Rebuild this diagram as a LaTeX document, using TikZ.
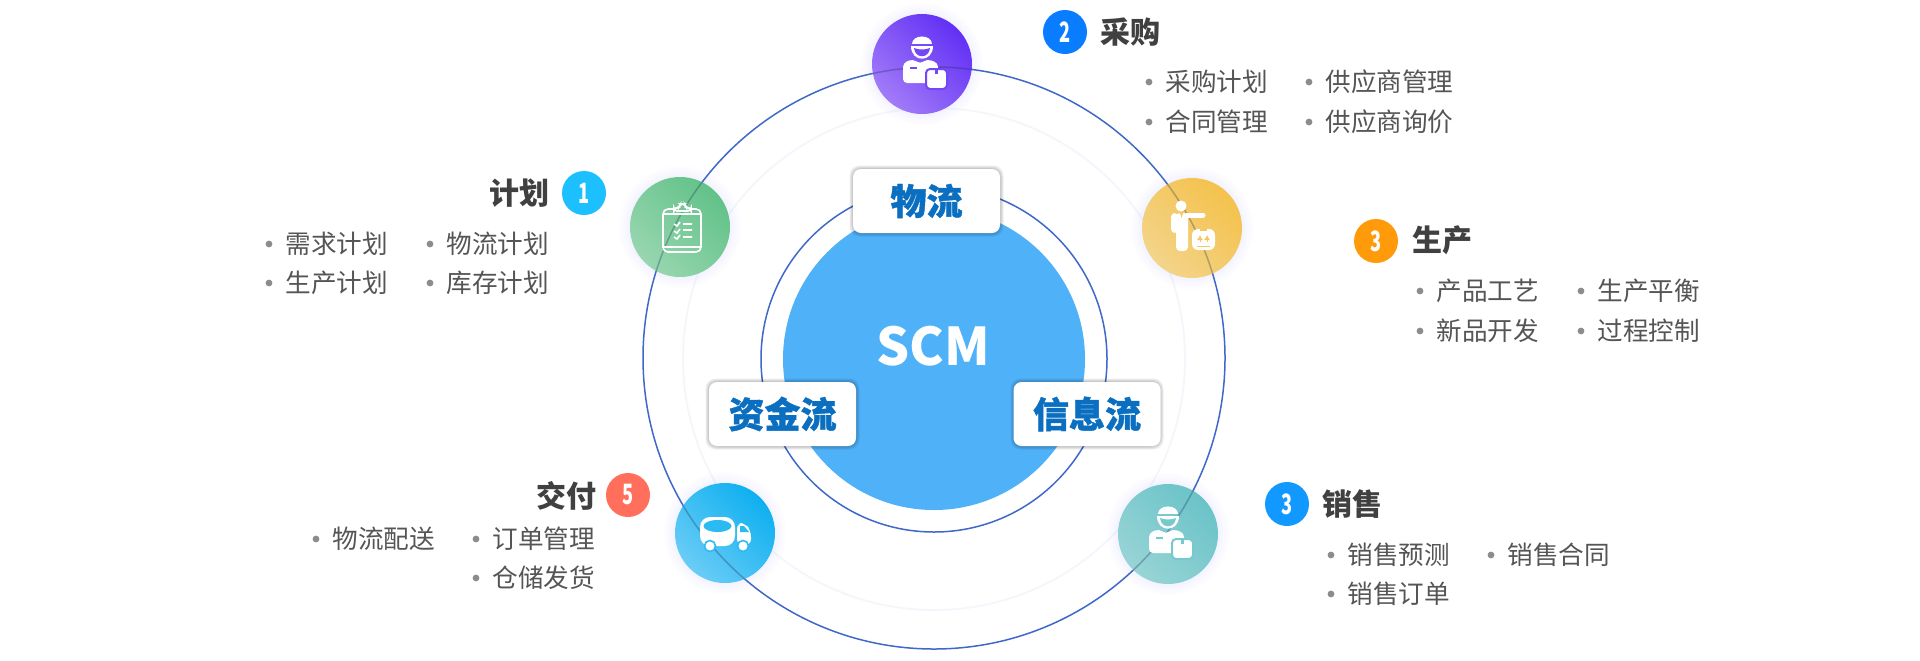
\documentclass[tikz,border=0pt]{standalone}
\usepackage{fontspec}
\usetikzlibrary{arrows.meta}
\setmainfont{Noto Sans CJK SC}
\newfontfamily\boxfont{Noto Sans CJK SC}[BoldFeatures={FakeBold=1.1}]
\definecolor{ringblue}{HTML}{3F68C8}
\definecolor{ringfaint}{HTML}{F5F6FC}
\definecolor{scmblue}{HTML}{4FB1F8}
\definecolor{flowblue}{HTML}{0A6FC0}
\definecolor{titlegray}{HTML}{404040}
\definecolor{itemgray}{HTML}{555555}
\definecolor{purpleA}{HTML}{6230F5}\definecolor{purpleB}{HTML}{A27BF8}\definecolor{purpleC}{HTML}{7446F6}
\definecolor{yellowA}{HTML}{F4C24C}\definecolor{yellowB}{HTML}{F3D48A}\definecolor{yellowC}{HTML}{F4C860}
\definecolor{greenA}{HTML}{62C288}\definecolor{greenB}{HTML}{98D6B0}\definecolor{greenC}{HTML}{72C996}
\definecolor{cyanA}{HTML}{0EB0F0}\definecolor{cyanB}{HTML}{6ACCF6}\definecolor{cyanC}{HTML}{2CBAF2}
\definecolor{tealA}{HTML}{6AC3C8}\definecolor{tealB}{HTML}{98D4D6}\definecolor{tealC}{HTML}{78C9CD}
\definecolor{badgeplan}{HTML}{1CC0FF}
\definecolor{badgebuy}{HTML}{0A7CFF}
\definecolor{badgemake}{HTML}{FF9A0A}
\definecolor{badgesell}{HTML}{1199FF}
\definecolor{badgeship}{HTML}{FF6F5C}
\tikzset{
  outerring/.style={draw=ringblue,line width=.75pt},
  icondisc/.style 2 args={circle,minimum size=50pt,inner sep=0pt,top color=#1,bottom color=#2,shading angle=-45},
  badge/.style={circle,minimum size=22pt,inner sep=0pt,text=white,font=\fontsize{14}{14}\bfseries},
  titletext/.style={text=titlegray,inner sep=0pt,font=\fontsize{15}{15}\bfseries},
  itemtext/.style={text=itemgray,inner sep=0pt,anchor=west,font=\fontsize{12.8}{13}\selectfont},
  itemdot/.style={fill=gray!90},
  flowbox/.style={fill=white,rounded corners=4pt,minimum width=73.5pt,minimum height=32pt,inner sep=0pt,
    text=flowblue,font=\fontsize{18}{18}\boxfont\bfseries},
}
% one entry of a list, with its dot
\newcommand{\listitem}[4]{
  \node[itemtext] (#1) at (#2,#3) {#4};
  \fill[itemdot] ([xshift=-8pt]#1.west) circle (3.4);
}
% soft halo behind a disc
\newcommand{\halo}[2]{
  \foreach \r in {51,53,...,61}
    \fill[blue!40,opacity=.015] (#1,#2) circle (\r);
}
% soft shadow of a flow box
\newcommand{\boxshade}[4]{
  \foreach \d in {.5,1.5,2.5,3.5}
    \fill[black,opacity=.065,rounded corners=5pt] (#1-\d,#2-\d) rectangle (#3+\d,#4+\d);
}
% man with cap and parcel
\newcommand{\courier}[3]{
  \begin{scope}[shift={(#1,#2)}]
    \fill[white] (-10,-20) .. controls (-10,-30) and (10,-30) .. (10,-20) -- cycle;
    \fill[white] (-11,-18) .. controls (-11,-1) and (11,-1) .. (11,-18) -- cycle;
    \fill[#3] (-8,-16) .. controls (-3,-14) and (3,-14) .. (8,-16) .. controls (7,-5) and (-7,-5) .. (-8,-16) -- cycle;
    \fill[white,rounded corners=2pt] (-19,19) -- (-19,-1) -- (-9,-5) -- (-2,0) -- (5,-5) -- (16,-1) -- (16,8) -- (8,19) -- cycle;
    \fill[#3] (-12,3) rectangle (-5,5);
    \draw[#3,fill=white,line width=1pt,rounded corners=2pt] (4,5) rectangle (25,25);
    \fill[#3] (13,6) rectangle (16,10);
  \end{scope}
}
\begin{document}
\begin{tikzpicture}[x=.5pt,y=-.5pt]
  \useasboundingbox[fill=white] (0,0) rectangle (1920,660);
  %% Rings
  \draw[ringfaint,line width=.9pt] (934,359) circle (251);
  \draw[outerring] (934,358) circle (291);
  \draw[outerring] (934,359) circle (173);
  \fill[scmblue] (934,359) circle (151);
  \node[text=white,font=\fontsize{26}{26}\bfseries] (scm) at (933,346) {SCM};
  %% Discs
  \halo{680}{227}\halo{922}{64}\halo{1192}{228}\halo{725}{533}\halo{1168}{534}
  \node[icondisc={greenA}{greenB}] (plandisc) at (680,227) {};
  \node[icondisc={purpleA}{purpleB}] (buydisc) at (922,64) {};
  \node[icondisc={yellowA}{yellowB}] (makedisc) at (1192,228) {};
  \node[icondisc={cyanA}{cyanB}] (shipdisc) at (725,533) {};
  \node[icondisc={tealA}{tealB}] (selldisc) at (1168,534) {};
  % ring seen through the discs
  \begin{scope}
    \clip (680,227) circle (50) (922,64) circle (50) (1192,228) circle (50) (725,533) circle (50) (1168,534) circle (50);
    \draw[black!60!ringblue,opacity=.3,line width=.75pt] (934,358) circle (291);
  \end{scope}
  %% Icons
  % clipboard
  \begin{scope}[shift={(680,227)},white,line width=.8pt]
    \draw[rounded corners=2.5pt] (-17,-18) rectangle (21,25);
    \draw (-17,-13) -- (21,-13) (-17,20) -- (21,20);
    \draw[fill=greenC,rounded corners=1.5pt] (-6,-19) -- (-1,-19) -- (0,-23) -- (5,-23) -- (6,-19) -- (11,-19) -- (11,-16) -- (-6,-16) -- cycle;
    \draw (-6,-3) -- (-3,-1) -- (0,-5) (3,-3) -- (12,-3);
    \draw (-6,4) -- (-3,6) -- (0,2) (3,3) -- (12,3);
    \draw (-6,10) -- (-3,12) -- (0,8) (3,10) -- (12,10);
  \end{scope}
  \courier{922}{64}{purpleC}
  \courier{1168}{534}{tealC}
  % man showing a box
  \begin{scope}[shift={(1192,228)}]
    \fill[white] (-11,-22) circle (5.5);
    \fill[white,rounded corners=2pt] (-16,-15) rectangle (-4,23);
    \fill[white,rounded corners=2pt] (-21,-15) rectangle (-14,5);
    \draw[white,line width=2.5pt,line cap=round] (-5,-13) -- (11,-13);
    \fill[yellowC] (-12,-15) -- (-9,-15) -- (-10.5,-10) -- cycle;
    \fill[white,rounded corners=3pt] (0,1) rectangle (23,22);
    \fill[yellowC] (8,1) rectangle (15,3);
    \draw[yellowC,line width=.5pt,-{Latex[length=2.5pt,width=3pt]}] (8,14) -- (8,7);
    \draw[yellowC,line width=.5pt,-{Latex[length=2.5pt,width=3pt]}] (15,14) -- (15,7);
    \draw[yellowC,line width=.5pt] (5,18) -- (18,18);
  \end{scope}
  % truck
  \begin{scope}[shift={(725,533)}]
    \fill[white,rounded corners=5pt] (-25,13) -- (-25,-16) -- (10,-16) -- (10,13) -- cycle;
    \fill[cyanC] (-7.5,-7) ellipse (14 and 6);
    \fill[white,rounded corners=3pt] (12,12) -- (12,-10) -- (20,-10) -- (26,-2) -- (26,12) -- cycle;
    \fill[cyanC] (15,-7) -- (19,-7) -- (24,-1) -- (15,-1) -- cycle;
    \draw[cyanC,fill=white,line width=.8pt] (-15,13) circle (5.5);
    \draw[cyanC,fill=white,line width=.8pt] (18,13) circle (5.5);
  \end{scope}
  %% Flow boxes
  \boxshade{853}{169}{1000}{233}
  \boxshade{709}{382}{856}{446}
  \boxshade{1014}{382}{1160}{446}
  \node[flowbox] (goods) at (926.5,201) {物流};
  \node[flowbox] (money) at (782.5,414) {资金流};
  \node[flowbox] (info) at (1087,414) {信息流};
  %% Plan
  \node[titletext] (plantitle) at (519,193) {计划};
  \node[badge,fill=badgeplan] (planbadge) at (584,193) {\scalebox{.65}[1]{1}};
  \listitem{planA}{285}{244}{需求计划}
  \listitem{planB}{446}{244}{物流计划}
  \listitem{planC}{285}{283}{生产计划}
  \listitem{planD}{446}{283}{库存计划}
  %% Buy
  \node[badge,fill=badgebuy] (buybadge) at (1065,32) {\scalebox{.65}[1]{2}};
  \node[titletext] (buytitle) at (1130,32) {采购};
  \listitem{buyA}{1165}{82}{采购计划}
  \listitem{buyB}{1325}{82}{供应商管理}
  \listitem{buyC}{1165}{122}{合同管理}
  \listitem{buyD}{1325}{122}{供应商询价}
  %% Make
  \node[badge,fill=badgemake] (makebadge) at (1376,241) {\scalebox{.65}[1]{3}};
  \node[titletext] (maketitle) at (1442,240) {生产};
  \listitem{makeA}{1436}{291}{产品工艺}
  \listitem{makeB}{1597}{291}{生产平衡}
  \listitem{makeC}{1436}{331}{新品开发}
  \listitem{makeD}{1597}{331}{过程控制}
  %% Sell
  \node[badge,fill=badgesell] (sellbadge) at (1287,504) {\scalebox{.65}[1]{3}};
  \node[titletext] (selltitle) at (1352,504) {销售};
  \listitem{sellA}{1347}{555}{销售预测}
  \listitem{sellB}{1507}{555}{销售合同}
  \listitem{sellC}{1347}{594}{销售订单}
  %% Ship
  \node[titletext] (shiptitle) at (566,496) {交付};
  \node[badge,fill=badgeship] (shipbadge) at (628,495) {\scalebox{.65}[1]{5}};
  \listitem{shipA}{332}{539}{物流配送}
  \listitem{shipB}{492}{539}{订单管理}
  \listitem{shipC}{492}{578}{仓储发货}
\end{tikzpicture}
\end{document}
